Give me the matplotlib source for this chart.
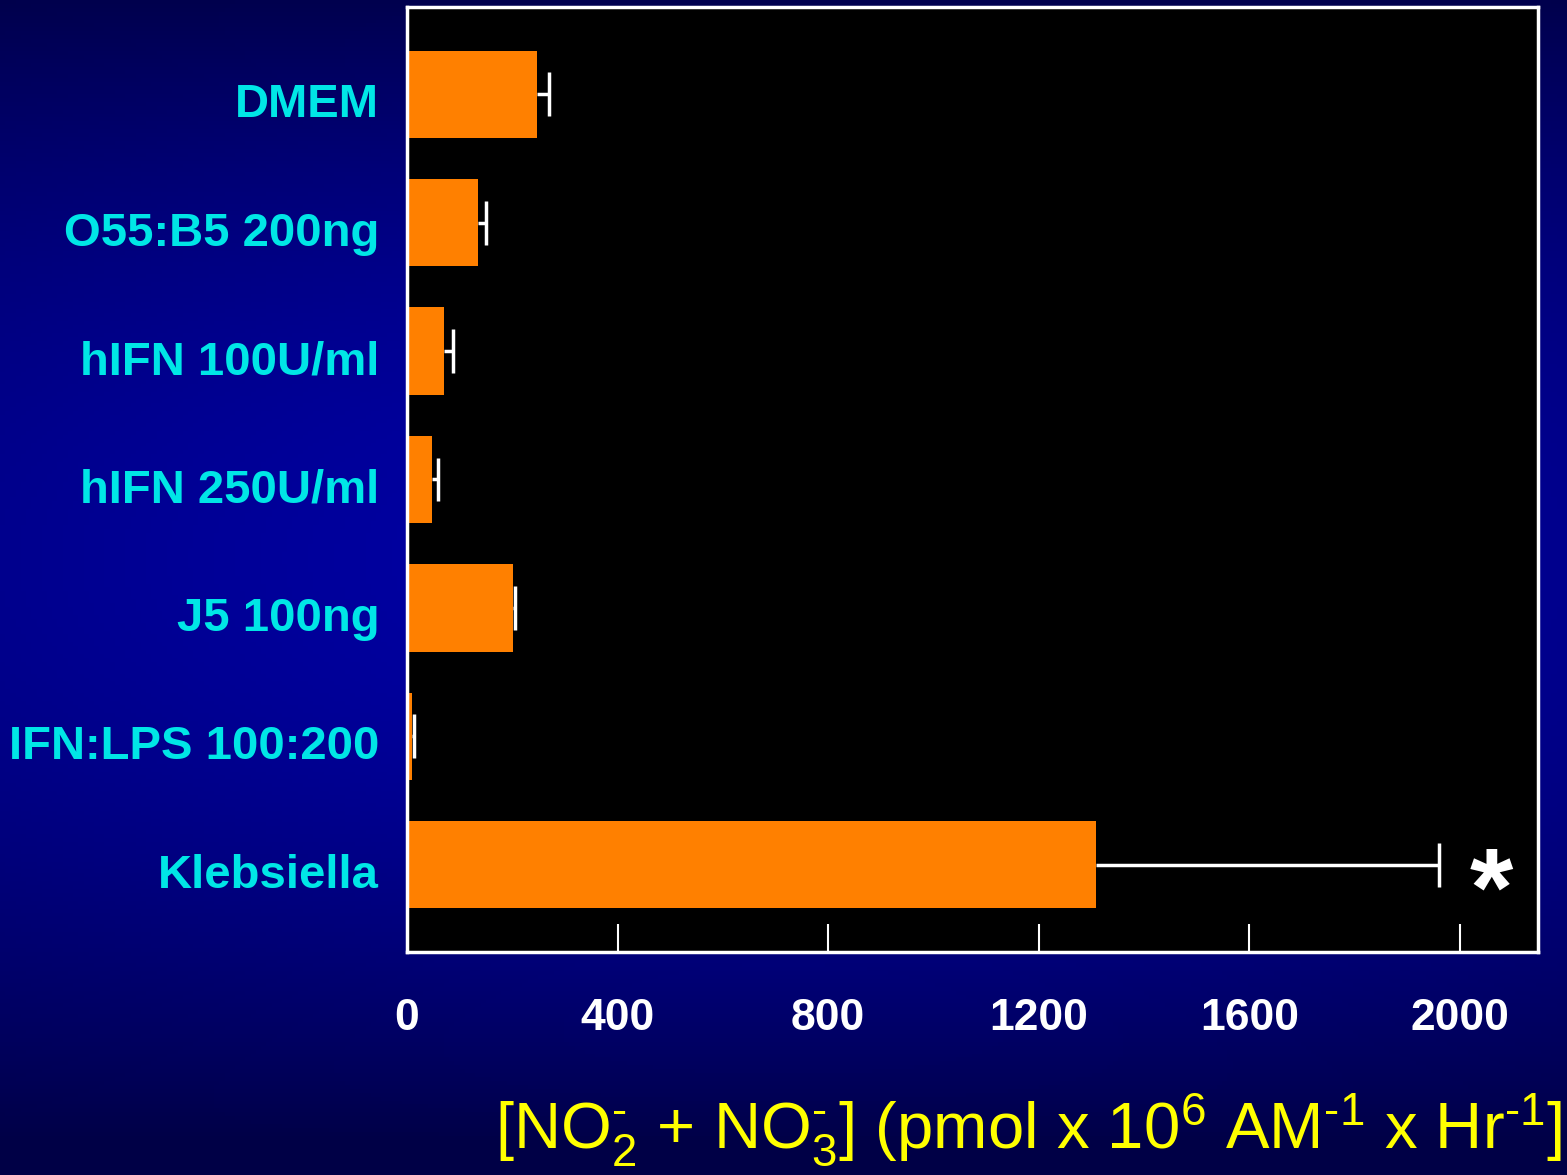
import numpy as np
import matplotlib
matplotlib.use("Agg")
import matplotlib.pyplot as plt
import matplotlib.transforms as mtransforms

# Данные
categories = ["DMEM", "O55:B5 200ng", "hIFN 100U/ml", "hIFN 250U/ml",
              "J5 100ng", "IFN:LPS 100:200", "Klebsiella"]
values = [247, 135, 70, 47, 201, 10, 1309]
errors = [23, 15, 17, 12, 4, 3, 651]
xticks = [400, 800, 1200, 1600, 2000]

plt.rcParams['font.family'] = ['Liberation Sans', 'DejaVu Sans']
plt.rcParams['mathtext.fontset'] = 'custom'
plt.rcParams['mathtext.rm'] = 'Liberation Sans'
plt.rcParams['mathtext.it'] = 'Liberation Sans'

fig = plt.figure(figsize=(15.67, 11.75), dpi=100)

# Фон с градиентом
bg = fig.add_axes([0, 0, 1, 1], zorder=-1)
yy = np.linspace(0, 1, 300)[:, None]
xx = np.linspace(0, 1, 300)[None, :]
v = 1 - (2 * yy - 0.95) ** 2
blue = 70 + 95 * np.clip(v, 0, 1) * (0.75 + 0.25 * np.sin(np.pi * xx))
img = np.zeros((300, 300, 3))
img[..., 2] = blue / 255
bg.imshow(img, aspect='auto', extent=[0, 1, 0, 1], origin='upper')
bg.axis('off')

ax = fig.add_axes([407 / 1567, 1 - 952 / 1175, (1538 - 407) / 1567, (952 - 7) / 1175])
ax.set_facecolor('black')
pos = np.arange(len(categories))
vals = np.array(values)
errs = np.array(errors)
ax.barh(pos, vals, height=0.68, color='#ff8000', zorder=2)
# только верхняя половина ошибки
ax.hlines(pos, vals, vals + errs, color='white', lw=2.5, zorder=3)
ax.vlines(vals + errs, pos - 0.17, pos + 0.17, color='white', lw=2.5, zorder=3)
ax.set_ylim(6.68, -0.68)
ax.set_xlim(0, 2148)
ax.set_yticks(pos)
ax.set_yticklabels(categories, color='#00e6e6', fontsize=34, fontweight='bold')
ax.tick_params(axis='y', length=0, pad=20)
off = mtransforms.ScaledTranslation(0, -6 / 100, fig.dpi_scale_trans)
for lab in ax.get_yticklabels():
    lab.set_transform(lab.get_transform() + off)
ax.set_xticks(xticks)
ax.set_xticklabels([str(t) for t in xticks])
ax.tick_params(axis='x', direction='in', length=20, width=1.5, color='white',
               labelcolor='white', labelsize=32, pad=33)
for lab in ax.get_xticklabels():
    lab.set_fontweight('bold')
ax.text(0, -(1018 - 952) / 945, "0", transform=ax.transAxes, ha='center', va='center',
        color='white', fontsize=32, fontweight='bold')
for s in ax.spines.values():
    s.set_color('white')
    s.set_linewidth(2.5)

ax.text(2060, 6.25, "*", color='white', fontsize=80, fontweight='bold',
        ha='center', va='center')

fig.text(1562 / 1567, 1 - 1130 / 1175,
         '[NO$_2^{\u2010}$ + NO$_3^{\u2010}$] (pmol x 10$^6$ AM$^{\u20101}$ x Hr$^{\u20101}$]',
         color='yellow', fontsize=47, ha='right', va='center')

fig.savefig("out.png", dpi=100, facecolor=fig.get_facecolor())
